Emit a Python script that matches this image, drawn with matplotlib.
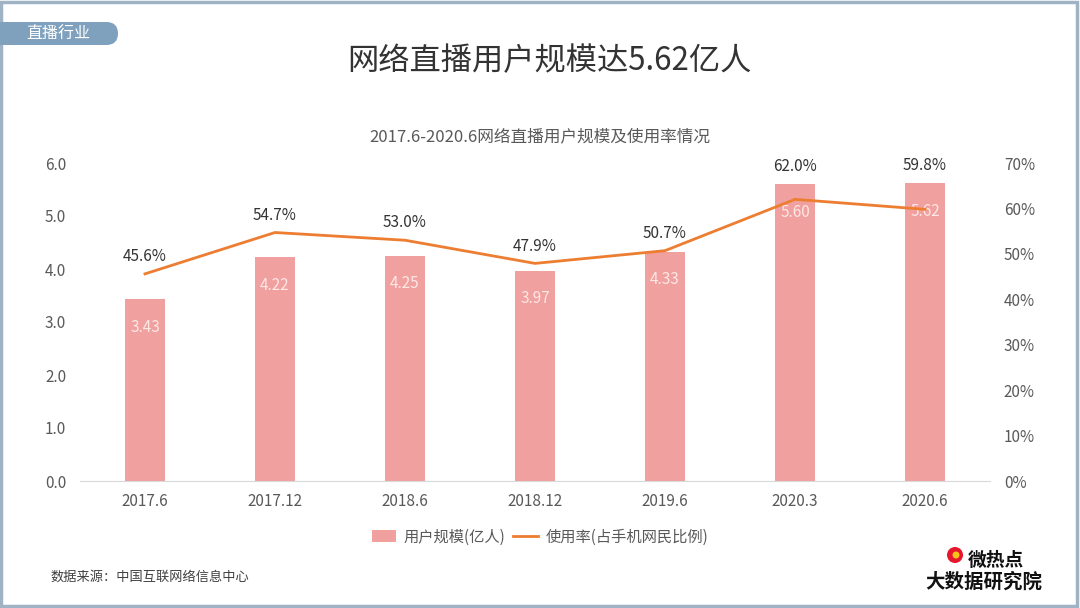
import matplotlib
matplotlib.use("Agg")
import matplotlib.pyplot as plt
from matplotlib.patches import FancyBboxPatch, Rectangle, Circle
from matplotlib.lines import Line2D

plt.rcParams['font.family'] = ['Noto Sans CJK SC', 'DejaVu Sans']

categories = ['2017.6', '2017.12', '2018.6', '2018.12', '2019.6', '2020.3', '2020.6']
users = [3.43, 4.22, 4.25, 3.97, 4.33, 5.60, 5.62]
rate = [45.6, 54.7, 53.0, 47.9, 50.7, 62.0, 59.8]
left_ticks = [0, 1, 2, 3, 4, 5, 6]
right_ticks = [0, 10, 20, 30, 40, 50, 60, 70]

BAR = '#f0a09e'
LINE = '#ed7d31'
TXT = '#595959'

fig = plt.figure(figsize=(10.8, 6.08), dpi=100)
fig.patch.set_facecolor('white')

# overlay in pixel coordinates for decorations
ov = fig.add_axes([0, 0, 1, 1], zorder=-1)
ov.set_xlim(0, 1080)
ov.set_ylim(608, 0)
ov.axis('off')
ov.add_patch(Rectangle((1, 1.5), 1076, 604, fill=False, edgecolor='#9fb3c4', linewidth=2.5))
ov.add_patch(FancyBboxPatch((-20, 22), 138, 23, boxstyle='round,pad=0,rounding_size=11.5',
                            facecolor='#7fa1bd', edgecolor='none'))
ov.text(58, 34, '直播行业', color='white', fontsize=11.5, fontweight='medium',
        ha='center', va='center')
ov.add_patch(Circle((955, 555), 8, facecolor='#e6162d', edgecolor='none'))
ov.add_patch(Circle((956, 555), 3.5, facecolor='#f7c21c', edgecolor='none'))
ov.text(968, 560, '微热点', color='#111111', fontsize=13.5, fontweight='bold',
        ha='left', va='center')
ov.text(925, 582, '大数据研究院', color='#111111', fontsize=14, fontweight='bold',
        ha='left', va='center')

fig.text(0.509, 0.9, '网络直播用户规模达5.62亿人', color='#333333', fontsize=22.5,
         ha='center', va='center')
fig.text(0.5, 0.775, '2017.6-2020.6网络直播用户规模及使用率情况', color=TXT, fontsize=12,
         ha='center', va='center')

ax = fig.add_axes([80/1080, 1 - 481/608, 910/1080, 318/608])
ax2 = ax.twinx()
x = list(range(len(categories)))
ax.bar(x, users, width=0.31, color=BAR, zorder=2)
ax.set_xlim(-0.5, 6.5)
ax.set_ylim(0, 6)
ax.set_yticks(left_ticks)
ax.set_yticklabels([f'{v:.1f}' for v in left_ticks])
ax.set_xticks(x)
ax.set_xticklabels(categories)
for i, v in enumerate(users):
    ax.text(i, v - 0.53, f'{v:.2f}', color='#fde8e6', fontsize=11, ha='center', va='center', zorder=3)

ax2.plot(x, rate, color=LINE, linewidth=2, zorder=4)
ax2.set_ylim(0, 70)
ax2.set_yticks(right_ticks)
ax2.set_yticklabels([f'{v}%' for v in right_ticks])
for i, v in enumerate(rate):
    top = max(v, users[i] / 6 * 70)
    ax2.text(i, top + 3.8, f'{v:.1f}%', color='#333333', fontsize=11, ha='center', va='center')

for a in (ax, ax2):
    for s in a.spines.values():
        s.set_visible(False)
    a.tick_params(length=0, colors=TXT, labelsize=11)
ax.spines['bottom'].set_visible(True)
ax.spines['bottom'].set_color('#d9d9d9')
ax.tick_params(axis='y', pad=10)
ax.tick_params(axis='x', pad=9)
ax2.tick_params(axis='y', pad=10)

handles = [Rectangle((0, 0), 1, 1, facecolor=BAR, edgecolor='none'),
           Line2D([0], [0], color=LINE, linewidth=2)]
fig.legend(handles, ['用户规模(亿人)', '使用率(占手机网民比例)'], loc='center',
           bbox_to_anchor=(0.5, 0.117), ncol=2, frameon=False, fontsize=11,
           labelcolor=TXT, handlelength=1.6, handleheight=0.8, columnspacing=0.5,
           handletextpad=0.5)

fig.text(0.047, 0.05, '数据来源：中国互联网络信息中心', color='#404040', fontsize=9.5,
         ha='left', va='center')

fig.savefig('out.png', dpi=100)
